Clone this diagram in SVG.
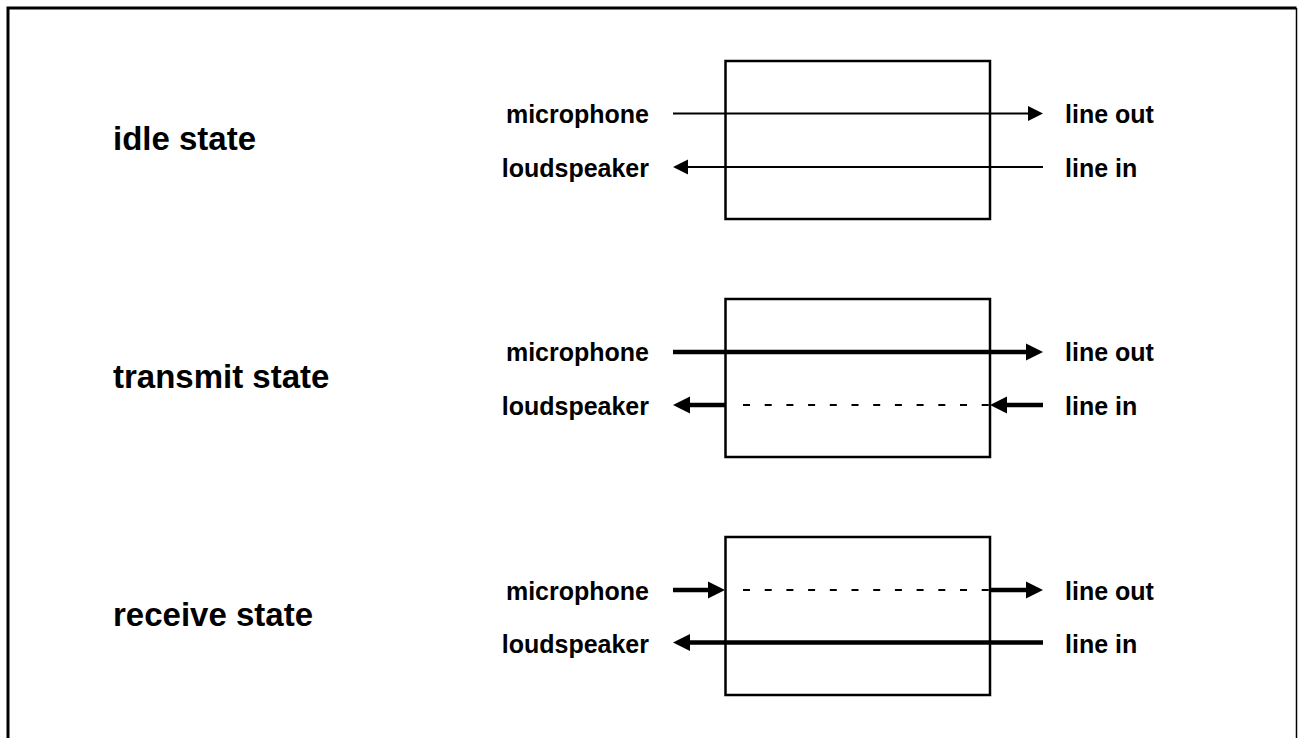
<svg xmlns="http://www.w3.org/2000/svg" width="1298" height="738" viewBox="0 0 1298 738">
<style>
.bg{fill:#fff}
.frame{fill:none;stroke:#000}
.box{fill:none;stroke:#000;stroke-width:2.5}
.thin{stroke:#000;stroke-width:2;fill:none}
.thick{stroke:#000;stroke-width:4.5;fill:none}
.dash{stroke:#000;stroke-width:2;fill:none;stroke-dasharray:7 14.7}
.state{font-family:"Liberation Sans",Arial,sans-serif;font-weight:bold;font-size:33px;fill:#000}
.lbl{font-family:"Liberation Sans",Arial,sans-serif;font-weight:bold;font-size:25px;fill:#000}
.r{text-anchor:end}
</style>
<defs>
<marker id="aThin" markerUnits="userSpaceOnUse" markerWidth="18" markerHeight="16" refX="0" refY="7.5" orient="auto" overflow="visible">
<path d="M0,0 L15,7.5 L0,15 z" fill="#000"/>
</marker>
<marker id="aThick" markerUnits="userSpaceOnUse" markerWidth="18" markerHeight="18" refX="0" refY="8.5" orient="auto" overflow="visible">
<path d="M0,0 L17,8.5 L0,17 z" fill="#000"/>
</marker>
</defs>
<rect class="bg" x="0" y="0" width="1298" height="738"/>
<g id="frame">
<path class="frame" d="M8,740 L8,8 L1296.5,8" stroke-width="3"/>
<path class="frame" d="M1296.5,8 L1296.5,740" stroke-width="1.5"/>
</g>

<g id="idle">
<text class="state" x="113" y="150">idle state</text>
<rect class="box" x="725.5" y="61" width="264.5" height="158"/>
<text class="lbl r" x="649" y="123">microphone</text>
<text class="lbl r" x="649" y="177">loudspeaker</text>
<text class="lbl" x="1065" y="123">line out</text>
<text class="lbl" x="1065" y="177">line in</text>
</g>

<g id="transmit">
<text class="state" x="113" y="388">transmit state</text>
<rect class="box" x="725.5" y="299" width="264.5" height="158"/>
<text class="lbl r" x="649" y="361">microphone</text>
<text class="lbl r" x="649" y="415">loudspeaker</text>
<text class="lbl" x="1065" y="361">line out</text>
<text class="lbl" x="1065" y="415">line in</text>
</g>

<g id="receive">
<text class="state" x="113" y="626">receive state</text>
<rect class="box" x="725.5" y="537" width="264.5" height="158"/>
<text class="lbl r" x="649" y="600">microphone</text>
<text class="lbl r" x="649" y="653">loudspeaker</text>
<text class="lbl" x="1065" y="600">line out</text>
<text class="lbl" x="1065" y="653">line in</text>
</g>

<g id="connectors">
<line class="thin" x1="673" y1="113.5" x2="1028" y2="113.5" marker-end="url(#aThin)"/>
<line class="thin" x1="1043" y1="167" x2="688" y2="167" marker-end="url(#aThin)"/>

<line class="thick" x1="673" y1="352" x2="1026" y2="352" marker-end="url(#aThick)"/>
<line class="thick" x1="726" y1="405" x2="690" y2="405" marker-end="url(#aThick)"/>
<line class="dash" x1="743" y1="405" x2="990" y2="405"/>
<line class="thick" x1="1043" y1="405" x2="1007" y2="405" marker-end="url(#aThick)"/>

<line class="thick" x1="673" y1="590" x2="708" y2="590" marker-end="url(#aThick)"/>
<line class="dash" x1="743" y1="590" x2="990" y2="590"/>
<line class="thick" x1="990" y1="590" x2="1026" y2="590" marker-end="url(#aThick)"/>
<line class="thick" x1="1043" y1="642.5" x2="690" y2="642.5" marker-end="url(#aThick)"/>
</g>
</svg>
